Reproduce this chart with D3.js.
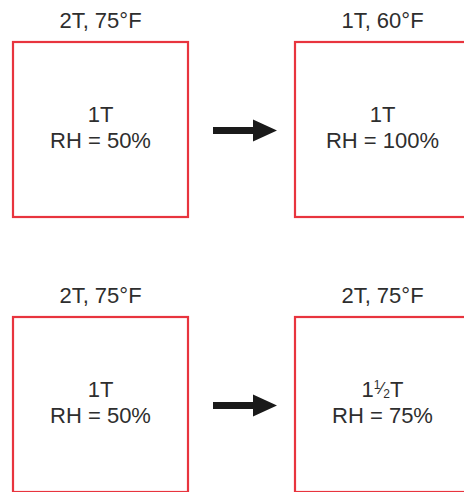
<!DOCTYPE html>
<html>
<head>
<meta charset="utf-8">
<script src="https://cdn.jsdelivr.net/npm/d3@7"></script>
<style>
  html, body { margin: 0; padding: 0; background: #fff; }
  text { font-family: "Liberation Sans", Arial, sans-serif; fill: #2e2e2e; }
</style>
</head>
<body>
<script>
// two scenarios, each a before -> after pair
const columns = ["before", "after"];
const rows = ["cooling", "adding water"];
const conditions = ["2T, 75°F", "1T, 60°F", "2T, 75°F", "2T, 75°F"];
const moisture = [[1, 0], [1, 0], [1, 0], [1, 2]]; // whole part, fraction denominator (0 = none)
const humidity = [50, 100, 50, 75];

const width = 464, height = 492;
const boxW = 175, boxH = 175;

const svg = d3.select("body").append("svg")
    .attr("width", width)
    .attr("height", height);

const x = d3.scaleOrdinal().domain(columns).range([13, 295]);
const y = d3.scaleOrdinal().domain(rows).range([42, 317]);

const cells = [];
rows.forEach((r, ri) => {
  columns.forEach((c, ci) => {
    const i = ri * columns.length + ci;
    cells.push({row: r, col: c, cond: conditions[i], m: moisture[i], rh: humidity[i]});
  });
});

const g = svg.selectAll("g.cell")
  .data(cells)
  .join("g")
    .attr("class", "cell")
    .attr("transform", d => "translate(" + x(d.col) + "," + y(d.row) + ")");

g.append("rect")
    .attr("x", 0).attr("y", 0)
    .attr("width", boxW).attr("height", boxH)
    .attr("fill", "none")
    .attr("stroke", "#e8343e")
    .attr("stroke-width", 2.2);

g.append("text")
    .attr("x", boxW / 2)
    .attr("y", -14)
    .attr("text-anchor", "middle")
    .attr("font-size", 22)
    .text(d => d.cond);

const t1 = g.append("text")
    .attr("x", boxW / 2)
    .attr("y", 80)
    .attr("text-anchor", "middle")
    .attr("font-size", 22);

t1.each(function(d) {
  const t = d3.select(this);
  t.append("tspan").text(d.m[0]);
  if (d.m[1]) {
    t.append("tspan").attr("font-size", 12).attr("dy", -8).text("1");
    t.append("tspan").attr("font-size", 17).attr("dy", 5).text("\u2044");
    t.append("tspan").attr("font-size", 12).attr("dy", 4).text(d.m[1]);
    t.append("tspan").attr("dy", -1).text("T");
  } else {
    t.append("tspan").text("T");
  }
});

g.append("text")
    .attr("x", boxW / 2)
    .attr("y", 106)
    .attr("text-anchor", "middle")
    .attr("font-size", 22)
    .text(d => "RH = " + d.rh + "%");

// arrows between the boxes of each row
const arrow = svg.selectAll("path.arrow")
  .data(rows)
  .join("path")
    .attr("class", "arrow")
    .attr("fill", "#1a1a1a")
    .attr("transform", d => "translate(213," + (y(d) + boxH / 2 + 1) + ")")
    .attr("d", "M0,-3.5 L40,-3.5 L40,-11 L64,0 L40,11 L40,3.5 L0,3.5 Z");
</script>
</body>
</html>
